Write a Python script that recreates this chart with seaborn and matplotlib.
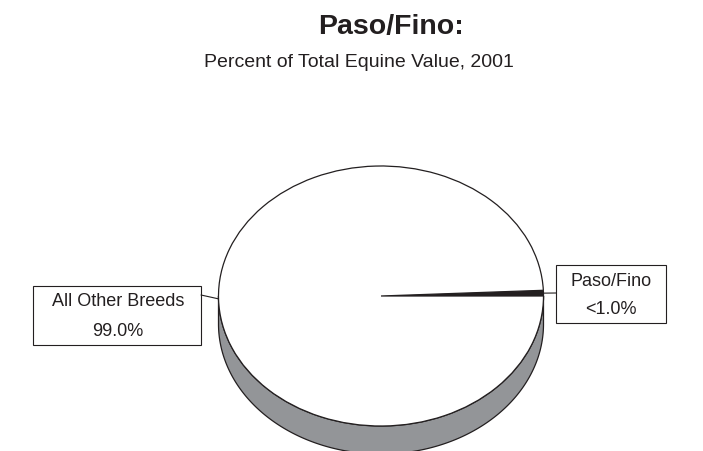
import matplotlib
matplotlib.use("Agg")
import matplotlib.pyplot as plt
import seaborn as sns
import numpy as np
from matplotlib.patches import Rectangle, Polygon

# ---- data ----
categories = ["Paso/Fino", "All Other Breeds"]
values = [0.7, 99.3]
value_labels = ["<1.0%", "99.0%"]
title = "Paso/Fino:"
subtitle = "Percent of Total Equine Value, 2001"

# ---- style ----
sns.set_theme(style="white")
plt.rcParams["font.family"] = ["Liberation Sans", "DejaVu Sans"]

INK = "#231f20"
TEXT = "#231f20"
top_colors = [INK, "white"]
side_colors = ["#3a3a3a", "#939598"]

W, H = 703, 452
CX, CY, RX, RY, DEPTH = 381, 297, 162.5, 130, 28

fig = plt.figure(figsize=(W / 100, H / 100), dpi=100)
ax = fig.add_axes([0, 0, 1, 1])


def P(x, y):
    """pixel position (from top-left) -> data coords of the pie axes"""
    return ((x - CX) / RX, (CY - y) / RY)


wedges, _ = ax.pie(values, colors=top_colors, startangle=0, counterclock=True,
                   radius=1, center=(0, 0),
                   wedgeprops=dict(edgecolor=INK, linewidth=0.9, zorder=2))

# 3-D side band of the pie (front half only)
d = DEPTH / RY
for w, col in zip(wedges, side_colors):
    t1, t2 = max(w.theta1, 180), min(w.theta2, 360)
    if t2 <= t1:
        continue
    t = np.radians(np.linspace(t1, t2, 300))
    top = np.column_stack([np.cos(t), np.sin(t)])
    bot = np.column_stack([np.cos(t[::-1]), np.sin(t[::-1]) - d])
    ax.add_patch(Polygon(np.vstack([top, bot]), closed=True, fc=col, ec=INK,
                         lw=0.9, zorder=1))

ax.set_aspect("auto")
x0, y0 = P(0, H)
x1, y1 = P(W, 0)
ax.set_xlim(x0, x1)
ax.set_ylim(y0, y1)
ax.set_axis_off()

# label boxes: (left, top, right, bottom) in pixels, line centres, leader y
boxes = [
    dict(rect=(556, 266, 666, 324), cx=611, lines=(282, 309), leader_y=294, side="left"),
    dict(rect=(33, 287, 201, 346), cx=118, lines=(302, 331.5), leader_y=296, side="right"),
]

for w, cat, lab, b in zip(wedges, categories, value_labels, boxes):
    l, t, r, btm = b["rect"]
    ll = P(l, btm)
    ax.add_patch(Rectangle(ll, (r - l) / RX, (btm - t) / RY, fc="white", ec=INK,
                           lw=0.8, zorder=3))
    ax.text(*P(b["cx"], b["lines"][0]), cat, ha="center", va="center",
            fontsize=13, color=TEXT, zorder=4)
    ax.text(*P(b["cx"], b["lines"][1]), lab, ha="center", va="center",
            fontsize=13, color=TEXT, zorder=4)
    m = np.radians((w.theta1 + w.theta2) / 2)
    ex = l if b["side"] == "left" else r
    bx, by = P(ex, b["leader_y"])
    ax.plot([np.cos(m), bx], [np.sin(m), by], color=INK, lw=0.8, zorder=3)

fig.text(391 / W, 1 - 34 / H, title, ha="center", va="baseline",
         fontsize=20.5, fontweight="bold", color=TEXT)
fig.text(359 / W, 1 - 67 / H, subtitle, ha="center", va="baseline",
         fontsize=14, color=TEXT)

fig.savefig("out.png", dpi=100)
